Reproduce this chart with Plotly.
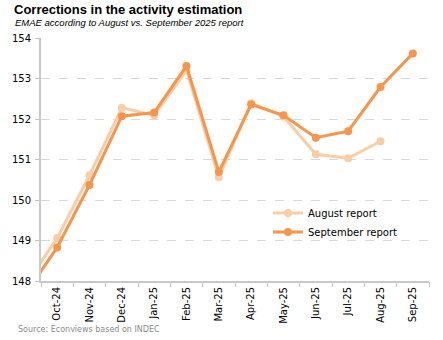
import plotly.graph_objects as go

months = ["Sep-24", "Oct-24", "Nov-24", "Dec-24", "Jan-25", "Feb-25", "Mar-25",
          "Apr-25", "May-25", "Jun-25", "Jul-25", "Aug-25", "Sep-25"]
august_report = [147.88, 149.06, 150.61, 152.28, 152.09, 153.20, 150.56,
                 152.39, 152.06, 151.13, 151.03, 151.45, None]
september_report = [147.65, 148.83, 150.37, 152.07, 152.16, 153.31, 150.69,
                    152.36, 152.09, 151.54, 151.70, 152.79, 153.62]
shown_labels = months[1:]
y_ticks = [148, 149, 150, 151, 152, 153, 154]

xpos = list(range(-1, len(months) - 1))

FONT = "DejaVu Sans"
NARROW = "Liberation Sans, Arial, sans-serif"
AUG_C = "#FBCDA5"
SEP_C = "#F7954A"

fig = go.Figure()
fig.add_trace(go.Scatter(
    x=xpos, y=august_report, mode="lines+markers", name="August report",
    line=dict(color=AUG_C, width=3), marker=dict(color=AUG_C, size=8),
    cliponaxis=True))
fig.add_trace(go.Scatter(
    x=xpos, y=september_report, mode="lines+markers", name="September report",
    line=dict(color=SEP_C, width=3), marker=dict(color=SEP_C, size=8),
    cliponaxis=True))
# invisible trace for boundary ticks
fig.add_trace(go.Scatter(x=[-0.5, 11.5], y=[148, 148], xaxis="x2", mode="markers",
                         marker=dict(opacity=0), showlegend=False, hoverinfo="skip"))

fig.update_layout(
    width=443, height=340,
    margin=dict(l=33, r=14, t=38, b=59),
    paper_bgcolor="white", plot_bgcolor="white",
    font=dict(family=FONT, size=10, color="#000000"),
    showlegend=True,
    legend=dict(x=0.585, y=0.34, xanchor="left", yanchor="top",
                bgcolor="rgba(0,0,0,0)", font=dict(family=FONT, size=10),
                itemwidth=30, tracegroupgap=6),
    xaxis=dict(range=[-0.5, 11.5], tickmode="array",
               tickvals=list(range(0, 12)), ticktext=shown_labels,
               tickangle=-90, ticks="", showgrid=False, zeroline=False,
               showline=True, linecolor="#C8C8C8", linewidth=2,
               tickfont=dict(family=FONT, size=10)),
    xaxis2=dict(range=[-0.5, 11.5], overlaying="x", side="bottom",
                tickmode="array", tickvals=[i - 0.5 for i in range(13)],
                ticktext=[""] * 13, ticks="outside", ticklen=5,
                tickcolor="#C8C8C8", tickwidth=1, showgrid=False,
                zeroline=False, showline=False),
    yaxis=dict(range=[148, 154], tickmode="array", tickvals=y_ticks,
               ticks="outside", ticklen=4, tickcolor="#C8C8C8",
               ticklabelstandoff=2,
               showgrid=True, gridcolor="#D9D9D9", griddash="dash", gridwidth=1,
               zeroline=False, showline=True, linecolor="#C8C8C8", linewidth=2,
               tickfont=dict(family=FONT, size=10)),
)

fig.add_annotation(text="<b>Corrections in the activity estimation</b>",
                   xref="paper", yref="paper", x=-30/396, y=1 + 28/242,
                   xanchor="left", yanchor="middle", showarrow=False,
                   font=dict(family=NARROW, size=13, color="#000"))
fig.add_annotation(text="<i>EMAE according to August vs. September 2025 report</i>",
                   xref="paper", yref="paper", x=-29/396, y=1 + 15/242,
                   xanchor="left", yanchor="middle", showarrow=False,
                   font=dict(family=NARROW, size=9.5, color="#000"))
fig.add_annotation(text="Source: Econviews based on INDEC",
                   xref="paper", yref="paper", x=-26/396, y=-(329 - 281) / 242,
                   xanchor="left", yanchor="middle", showarrow=False,
                   font=dict(family=FONT, size=8, color="#8C8C8C"))

fig.write_html("out.html")
